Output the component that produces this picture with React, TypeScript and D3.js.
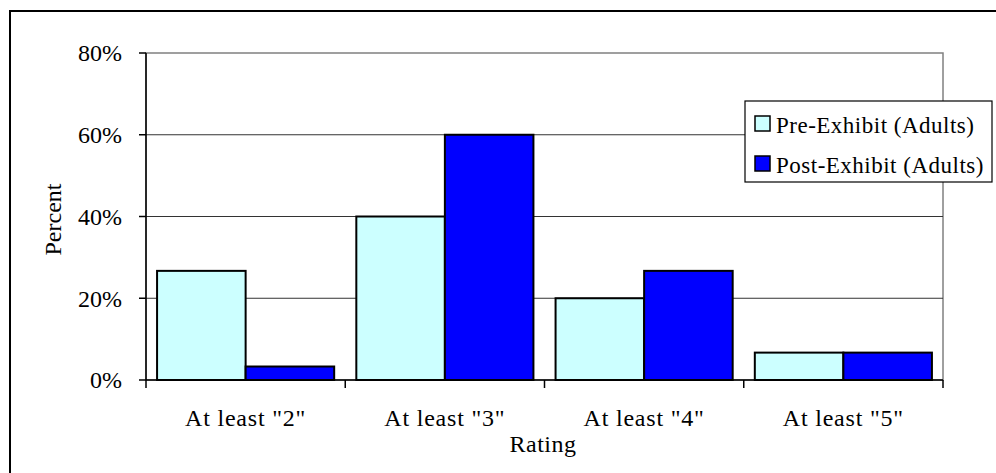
import React from 'react'
import * as d3 from 'd3'

const categories = ['At least "2"', 'At least "3"', 'At least "4"', 'At least "5"']
const seriesNames = ['Pre-Exhibit (Adults)', 'Post-Exhibit (Adults)']
const preValues = [0.267, 0.4, 0.2, 0.067]
const postValues = [0.033, 0.6, 0.267, 0.067]
const yTicks = [0, 0.2, 0.4, 0.6, 0.8]
const colors = ['#CCFFFF', '#0000FF']

const W = 996
const H = 473
const plot = { left: 146, top: 53, right: 943, bottom: 380 }
const font = "'Liberation Serif', 'Times New Roman', serif"

export default function App () {
  const x = d3.scaleBand().domain(categories).range([plot.left, plot.right]).paddingInner(0).paddingOuter(0)
  const xs = d3.scaleBand().domain(seriesNames).range([0, x.bandwidth()]).paddingOuter(0.125).paddingInner(0)
  const y = d3.scaleLinear().domain([0, 0.8]).range([plot.bottom, plot.top])
  const fmt = d3.format('.0%')
  const series = [preValues, postValues]

  return (
    <svg width={W} height={H} style={{ position: 'absolute', left: 0, top: 0, display: 'block' }} fontFamily={font} fill='#000'>
      <rect x={0} y={0} width={W} height={H} fill='#fff' />
      {/* outer chart frame, cut off right and bottom */}
      <rect x={10} y={11} width={W + 20} height={H + 20} fill='none' stroke='#000' strokeWidth={2} />

      {/* plot area border */}
      <rect x={plot.left} y={plot.top} width={plot.right - plot.left} height={plot.bottom - plot.top} fill='none' stroke='#808080' strokeWidth={1.5} />

      {/* gridlines */}
      {yTicks.slice(1, -1).map(t => (
        <line key={t} x1={plot.left} x2={plot.right} y1={y(t)} y2={y(t)} stroke='#333' strokeWidth={1} />
      ))}

      {/* bars */}
      {categories.map((c, i) => (
        <g key={c}>
          {series.map((vals, s) => (
            <rect key={s}
              x={x(c)! + xs(seriesNames[s])!}
              y={y(vals[i])}
              width={xs.bandwidth()}
              height={y(0) - y(vals[i])}
              fill={colors[s]} stroke='#000' strokeWidth={2} />
          ))}
        </g>
      ))}

      {/* y axis */}
      <line x1={plot.left} x2={plot.left} y1={plot.top} y2={plot.bottom} stroke='#000' strokeWidth={1.5} />
      {yTicks.map(t => (
        <g key={t}>
          <line x1={plot.left - 7} x2={plot.left} y1={y(t)} y2={y(t)} stroke='#000' strokeWidth={1.5} />
          <text x={plot.left - 24} y={y(t)} dy='0.35em' textAnchor='end' fontSize={24}>{fmt(t)}</text>
        </g>
      ))}

      {/* x axis */}
      <line x1={plot.left} x2={plot.right} y1={plot.bottom} y2={plot.bottom} stroke='#000' strokeWidth={1.5} />
      {categories.concat(['end']).map((c, i) => {
        const px = i < categories.length ? x(c)! : plot.right
        return <line key={c} x1={px} x2={px} y1={plot.bottom} y2={plot.bottom + 8} stroke='#000' strokeWidth={1.5} />
      })}
      {categories.map(c => (
        <text key={c} x={x(c)! + x.bandwidth() / 2} y={426} textAnchor='middle' fontSize={24} letterSpacing={0.8}>{c}</text>
      ))}

      <text x={543} y={452} textAnchor='middle' fontSize={24} letterSpacing={0.5}>Rating</text>
      <text transform={`translate(61, ${(plot.top + plot.bottom) / 2 + 3}) rotate(-90)`} textAnchor='middle' fontSize={24}>Percent</text>

      {/* legend */}
      <rect x={745} y={101} width={247} height={81} fill='#fff' stroke='#000' strokeWidth={1.2} />
      {seriesNames.map((n, i) => (
        <g key={n} transform={`translate(755, ${116 + i * 40})`}>
          <rect x={0} y={0} width={15} height={15} fill={colors[i]} stroke='#000' strokeWidth={1.5} />
          <text x={21} y={17} fontSize={23} letterSpacing={0.5}>{n}</text>
        </g>
      ))}
    </svg>
  )
}
